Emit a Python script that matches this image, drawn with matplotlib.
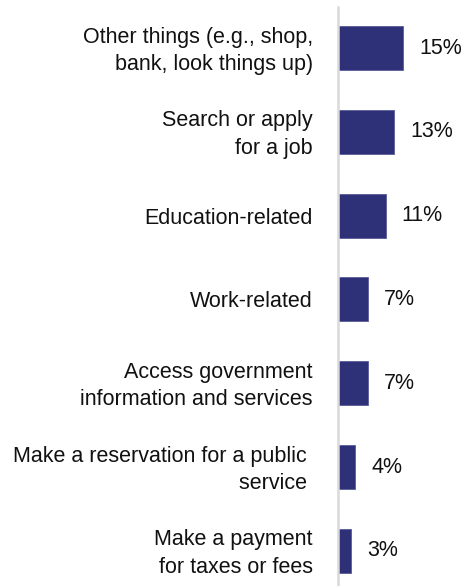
import matplotlib
matplotlib.use("Agg")
import matplotlib.pyplot as plt
import matplotlib.transforms as mtransforms

categories = [
    "Other things (e.g., shop,\nbank, look things up)",
    "Search or apply\nfor a job",
    "Education-related",
    "Work-related",
    "Access government\ninformation and services",
    "Make a reservation for a public \nservice ",
    "Make a payment\nfor taxes or fees",
]
values = [15, 13, 11, 7, 7, 4, 3]
value_labels = ["15%", "13%", "11%", "7%", "7%", "4%", "3%"]

plt.rcParams['font.family'] = ['Liberation Sans', 'DejaVu Sans']

W, H = 464, 586
fig = plt.figure(figsize=(W / 100, H / 100), dpi=100)
ax = fig.add_axes([338 / W, 0, 1 - 338 / W, 1 - 7 / H])

ypos = list(range(len(categories)))
ax.barh(ypos, values, height=0.525, color='#2e3078', edgecolor='#5a5c9a', linewidth=0.6, zorder=2)

for y, v, lab in zip(ypos, values, value_labels):
    ax.text(v + 3.7, y, lab, va='center', ha='left', fontsize=15.5, color='#111111')

ax.set_xlim(0, 29.1)
ax.set_ylim(6.42, -0.49)
ax.set_yticks(ypos)
ax.set_yticklabels(categories, fontsize=15.5, color='#111111', linespacing=1.42)
ax.tick_params(axis='y', length=0, pad=18)
ax.set_xticks([])
for s in ['top', 'right', 'bottom']:
    ax.spines[s].set_visible(False)
ax.spines['left'].set_color('#d9d9d9')
ax.spines['left'].set_linewidth(1.8)

shift = mtransforms.ScaledTranslation(0, 3 / 100, fig.dpi_scale_trans)
for lbl in ax.get_yticklabels():
    if "\n" in lbl.get_text():
        lbl.set_transform(lbl.get_transform() + shift)

fig.savefig("out.png", dpi=100)
